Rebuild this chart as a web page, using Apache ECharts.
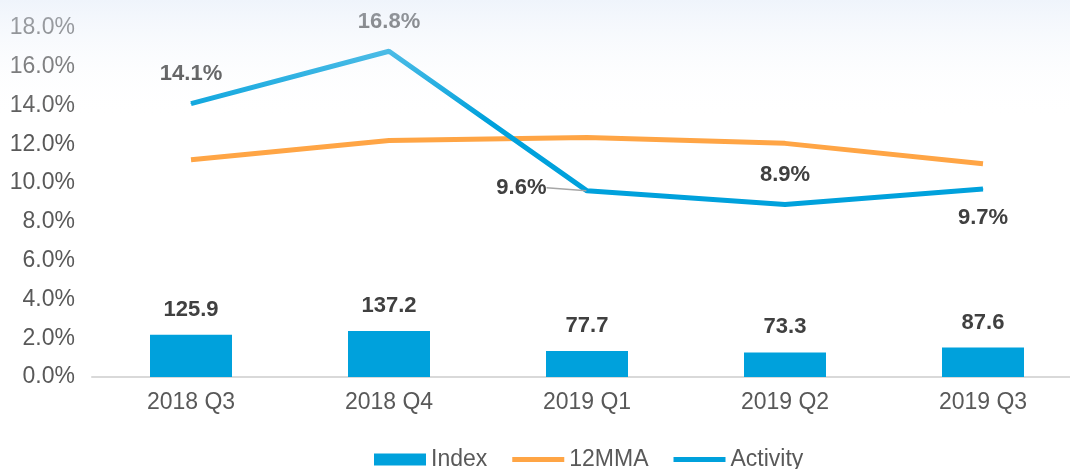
<!DOCTYPE html>
<html>
<head>
<meta charset="utf-8">
<script src="https://cdn.jsdelivr.net/npm/echarts@6/dist/echarts.min.js"></script>
<style>
  html, body { margin: 0; padding: 0; background: #fff; overflow: hidden; }
  /* wider than the window: the plot runs past the right edge */
  #chart { width: 1086px; height: 469px; }
</style>
</head>
<body>
<div id="chart"></div>
<script>
const categories = ['2018 Q3', '2018 Q4', '2019 Q1', '2019 Q2', '2019 Q3']
const indexValues = [125.9, 137.2, 77.7, 73.3, 87.6]
const mmaValues = [11.2, 12.2, 12.35, 12.05, 11.0]
const activityValues = [14.1, 16.8, 9.6, 8.9, 9.7]
// label side for each activity point
const activityLabelPos = ['top', 'top', 'left', 'top', 'bottom']

const txt = '#404040'
const font = '"Liberation Sans", Arial, sans-serif'
const lineIcon = 'path://M0,0 L52,0 L52,5 L0,5 Z'

let chart = echarts.init(document.getElementById('chart'))
let option = {
  animation: false,
  backgroundColor: '#fff',
  textStyle: { fontFamily: font },
  grid: { left: 92, right: 4, top: 28, bottom: 92 },
  legend: {
    bottom: -7,
    left: 369,
    itemWidth: 52,
    itemHeight: 12,
    itemGap: 25,
    textStyle: { fontSize: 23, color: '#595959', fontFamily: font },
    data: [
      { name: 'Index', icon: 'rect' },
      { name: '12MMA', icon: lineIcon },
      { name: 'Activity', icon: lineIcon }
    ]
  },
  xAxis: {
    type: 'category',
    data: categories,
    axisTick: { show: false },
    axisLine: { lineStyle: { color: '#d9d9d9', width: 2 } },
    axisLabel: { fontSize: 23, color: '#595959', margin: 14 }
  },
  yAxis: [
    {
      type: 'value',
      min: 0,
      max: 18,
      interval: 2,
      splitLine: { show: false },
      axisLine: { show: false },
      axisLabel: {
        fontSize: 23,
        color: '#595959',
        margin: 17,
        formatter: v => v.toFixed(1) + '%'
      }
    },
    {
      type: 'value',
      min: 0,
      max: 1040,
      show: false
    }
  ],
  series: [
    {
      name: 'Index',
      type: 'bar',
      yAxisIndex: 1,
      data: indexValues,
      barWidth: 82,
      itemStyle: { color: '#00a1dc' },
      label: {
        show: true,
        position: 'top',
        distance: 14,
        fontSize: 22,
        fontWeight: 'bold',
        color: txt,
        formatter: p => p.value.toFixed(1)
      }
    },
    {
      name: '12MMA',
      type: 'line',
      data: mmaValues,
      symbol: 'none',
      lineStyle: { color: '#ffa545', width: 5 },
      itemStyle: { color: '#ffa545' }
    },
    {
      name: 'Activity',
      type: 'line',
      z: 3,
      data: activityValues.map((v, i) => ({
        value: v,
        label: { position: activityLabelPos[i] },
        labelLine: { show: i === 2 }
      })),
      symbol: 'circle',
      symbolSize: 1,
      lineStyle: { color: '#00a1dc', width: 5 },
      itemStyle: { color: '#00a1dc' },
      label: {
        show: true,
        distance: 18,
        fontSize: 22,
        fontWeight: 'bold',
        color: txt,
        formatter: p => p.value.toFixed(1) + '%'
      },
      labelLine: { show: false, lineStyle: { color: '#a6a6a6', width: 1.5 } },
      labelLayout: function (params) {
        if (params.dataIndex === 2) return { dx: -22, dy: -3 }
        return {}
      }
    }
  ],
  graphic: [
    {
      type: 'rect',
      silent: true,
      z: 100,
      shape: { x: 0, y: 0, width: 1086, height: 160 },
      style: {
        fill: new echarts.graphic.LinearGradient(0, 0, 0, 1, [
          { offset: 0, color: 'rgba(226,235,248,0.55)' },
          { offset: 0.75, color: 'rgba(255,255,255,0)' }
        ])
      }
    }
  ]
}
chart.setOption(option, true)
</script>
</body>
</html>
